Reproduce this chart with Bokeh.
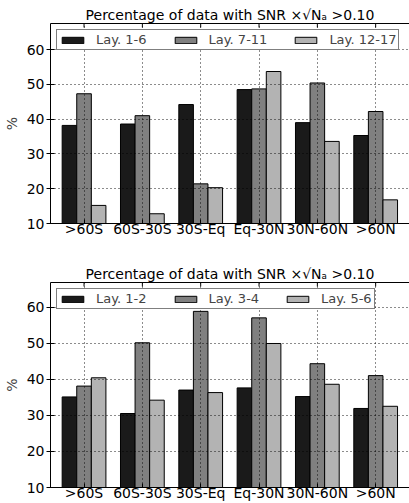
import numpy as np
from bokeh.plotting import figure
from bokeh.models import Range1d, FixedTicker, LinearAxis, Legend, LegendItem, ColumnDataSource
from bokeh.layouts import column
from bokeh.embed import file_html
from bokeh.resources import INLINE

regions = [">60S", "60S-30S", "30S-Eq", "Eq-30N", "30N-60N", ">60N"]
y_ticks = [10, 20, 30, 40, 50, 60]
title_text = "Percentage of data with SNR ×√Nₐ >0.10"

top_labels = ["Lay. 1-6", "Lay. 7-11", "Lay. 12-17"]
top_lay_1_6 = [38.2, 38.6, 44.2, 48.5, 39.0, 35.3]
top_lay_7_11 = [47.3, 41.0, 21.4, 48.7, 50.4, 42.2]
top_lay_12_17 = [15.2, 12.8, 20.3, 53.7, 33.6, 16.8]

bot_labels = ["Lay. 1-2", "Lay. 3-4", "Lay. 5-6"]
bot_lay_1_2 = [35.1, 30.5, 37.0, 37.6, 35.2, 31.9]
bot_lay_3_4 = [38.1, 50.1, 58.8, 57.0, 44.3, 41.0]
bot_lay_5_6 = [40.4, 34.2, 36.3, 49.9, 38.6, 32.5]

colors = ["#1a1a1a", "#808080", "#b3b3b3"]
FONT = "DejaVu Sans"


def make_panel(series, labels, ymax, height, border_top, border_bottom, label_standoff):
    idx = np.arange(len(regions))
    tick_pos = [float(i) + 0.375 for i in idx]
    p = figure(width=409, height=height, output_backend="svg", toolbar_location=None,
               x_range=Range1d(-0.2, 5.955), y_range=Range1d(10, ymax),
               min_border_left=50, min_border_right=0,
               min_border_top=border_top, min_border_bottom=border_bottom)
    p.outline_line_color = None
    p.background_fill_color = "white"
    p.border_fill_color = "white"

    items = []
    for k, (vals, col, lab) in enumerate(zip(series, colors, labels)):
        src = ColumnDataSource(dict(x=idx + 0.125 + 0.25 * k, top=vals))
        r = p.vbar(x="x", top="top", bottom=0, width=0.25, source=src,
                   fill_color=col, line_color="black", line_width=1)
        items.append(LegendItem(label=lab, renderers=[r]))

    # inward tick marks on the top edge (half of each dash is clipped by the frame)
    p.scatter(x=tick_pos, y=[ymax] * len(tick_pos), marker="dash", angle=np.pi / 2,
              size=8, line_color="black", line_width=1)

    # title
    p.title.text = title_text
    p.title.align = "center"
    p.title.text_font = FONT
    p.title.text_font_size = "14px"
    p.title.text_font_style = "normal"
    p.title.text_color = "black"
    p.title.standoff = 2
    p.title.offset = 0

    # x axis
    xa = p.xaxis[0]
    xa.ticker = FixedTicker(ticks=tick_pos)
    xa.major_label_overrides = {t: r for t, r in zip(tick_pos, regions)}
    xa.major_tick_in = 4
    xa.major_tick_out = 0
    xa.minor_tick_line_color = None
    xa.major_label_standoff = label_standoff

    # y axis
    ya = p.yaxis[0]
    ya.ticker = FixedTicker(ticks=y_ticks)
    ya.major_tick_in = 4
    ya.major_tick_out = 4
    ya.minor_tick_line_color = None
    ya.major_label_standoff = 2
    ya.axis_label = "%"
    ya.axis_label_text_font = FONT
    ya.axis_label_text_font_size = "14px"
    ya.axis_label_text_font_style = "normal"
    ya.axis_label_standoff = 4

    # top frame line (no ticks / labels)
    ta = LinearAxis(ticker=FixedTicker(ticks=[]), major_tick_in=0, major_tick_out=0,
                    major_label_standoff=0, minor_tick_line_color=None)
    p.add_layout(ta, "above")

    for ax in p.axis:
        ax.axis_line_color = "black"
        ax.axis_line_width = 1
        ax.major_tick_line_color = "black"
        ax.major_label_text_font = FONT
        ax.major_label_text_color = "black"
    xa.major_label_text_font_size = "14px"
    ya.major_label_text_font_size = "14px"

    # grid (dotted, drawn over bars)
    p.xgrid.ticker = FixedTicker(ticks=tick_pos)
    p.ygrid.ticker = FixedTicker(ticks=y_ticks)
    for g in (p.xgrid[0], p.ygrid[0]):
        g.grid_line_color = "black"
        g.grid_line_dash = "1 3"
        g.grid_line_width = 1
        g.grid_line_alpha = 0.9
        g.level = "annotation"

    legend = Legend(items=items, orientation="horizontal", location="top_left",
                    margin=6, padding=2, spacing=25, glyph_width=27, glyph_height=8,
                    label_standoff=10, label_height=8, label_width=0,
                    label_text_font=FONT, label_text_font_size="13px",
                    border_line_color="black", border_line_width=1,
                    background_fill_color="white", background_fill_alpha=1.0)
    p.add_layout(legend)
    return p


p1 = make_panel([top_lay_1_6, top_lay_7_11, top_lay_12_17], top_labels,
                67.5, 250, 23, 27, -3)
p2 = make_panel([bot_lay_1_2, bot_lay_3_4, bot_lay_5_6], bot_labels,
                66.8, 253, 32, 16, -3)

layout = column(p1, p2, spacing=0)
open("out.html", "w").write(file_html(layout, INLINE))
